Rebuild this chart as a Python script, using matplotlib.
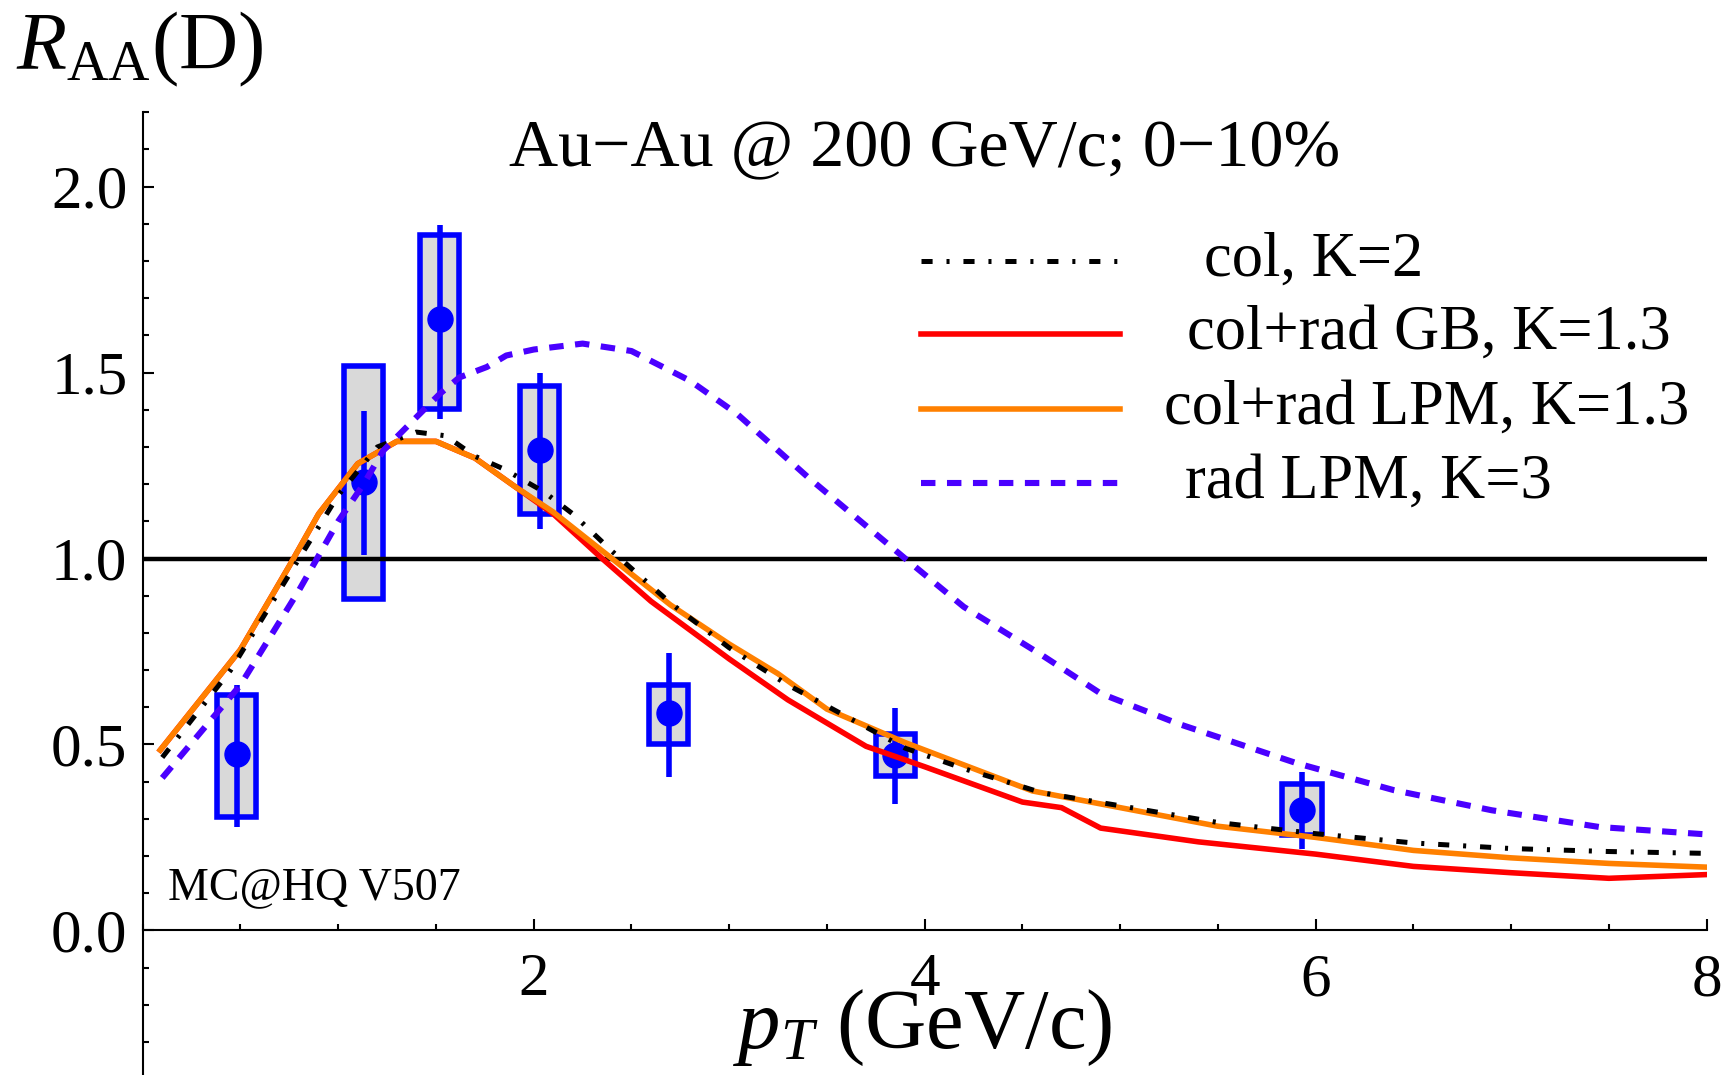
import matplotlib
matplotlib.use("Agg")
import matplotlib.pyplot as plt
from matplotlib.patches import Rectangle
from matplotlib.ticker import MultipleLocator, FixedLocator

plt.rcParams['font.family'] = ['Liberation Serif', 'DejaVu Serif']
plt.rcParams['mathtext.fontset'] = 'custom'
plt.rcParams['mathtext.rm'] = 'Liberation Serif'
plt.rcParams['mathtext.it'] = 'Liberation Serif:italic'
plt.rcParams['lines.scale_dashes'] = False

# ---------------- data ----------------
# measured D-meson R_AA (points, stat errors, systematic boxes)
pt_data = [0.48, 1.13, 1.52, 2.03, 2.69, 3.85, 5.93]
raa_data = [0.473, 1.205, 1.644, 1.292, 0.585, 0.471, 0.325]
stat_lo = [0.278, 1.010, 1.376, 1.080, 0.413, 0.339, 0.220]
stat_hi = [0.659, 1.398, 1.898, 1.499, 0.746, 0.598, 0.426]
sys_lo = [0.305, 0.890, 1.402, 1.120, 0.502, 0.415, 0.257]
sys_hi = [0.633, 1.517, 1.870, 1.463, 0.659, 0.529, 0.393]

# model curves
col_x = [0.1, 0.45, 0.8, 1.0, 1.2, 1.4, 1.55, 1.7, 1.85, 2.05, 2.2, 2.4, 2.7, 3.0, 3.3,
         3.6, 3.9, 4.2, 4.6, 5.0, 5.5, 6.0, 6.5, 7.0, 7.5, 8.0]
col_y = [0.465, 0.70, 1.0, 1.17, 1.30, 1.34, 1.33, 1.275, 1.24, 1.18, 1.12, 1.02, 0.88,
         0.76, 0.66, 0.575, 0.49, 0.435, 0.37, 0.335, 0.29, 0.26, 0.235, 0.22, 0.212, 0.207]

gb_x = [0.09, 0.5, 0.75, 0.9, 1.1, 1.3, 1.5, 1.7, 1.9, 2.1, 2.35, 2.6, 3.0, 3.3, 3.7,
        4.0, 4.5, 4.7, 4.9, 5.4, 6.0, 6.5, 7.0, 7.5, 8.0]
gb_y = [0.485, 0.755, 0.98, 1.12, 1.255, 1.315, 1.315, 1.27, 1.195, 1.12, 1.0, 0.885,
        0.73, 0.62, 0.495, 0.44, 0.345, 0.33, 0.275, 0.238, 0.205, 0.172, 0.155, 0.14, 0.15]

lpm_x = [0.09, 0.5, 0.75, 0.9, 1.1, 1.3, 1.5, 1.7, 1.9, 2.1, 2.4, 2.7, 3.0, 3.25, 3.5,
         3.9, 4.25, 4.55, 5.0, 5.5, 6.0, 6.5, 7.0, 7.5, 8.0]
lpm_y = [0.485, 0.755, 0.98, 1.12, 1.255, 1.315, 1.315, 1.27, 1.195, 1.125, 1.0, 0.875,
         0.77, 0.69, 0.595, 0.505, 0.435, 0.375, 0.33, 0.28, 0.25, 0.215, 0.195, 0.18, 0.17]

rad_x = [0.1, 0.5, 0.8, 1.0, 1.13, 1.23, 1.4, 1.52, 1.62, 1.76, 1.86, 2.0, 2.25, 2.5,
         2.8, 3.04, 3.4, 3.9, 4.2, 4.6, 4.9, 5.3, 5.9, 6.4, 6.9, 7.45, 8.0]
rad_y = [0.41, 0.66, 0.915, 1.10, 1.20, 1.29, 1.38, 1.443, 1.487, 1.515, 1.546, 1.562,
         1.578, 1.558, 1.478, 1.389, 1.22, 1.0, 0.87, 0.74, 0.637, 0.555, 0.45, 0.377,
         0.323, 0.278, 0.258]

legend_labels = ["col, K=2", "col+rad GB, K=1.3", "col+rad LPM, K=1.3", "rad LPM, K=3"]
x_ticks = [2, 4, 6, 8]
y_ticks = [0.0, 0.5, 1.0, 1.5, 2.0]

# ---------------- figure ----------------
fig = plt.figure(figsize=(17.24, 10.75), dpi=100)
ax = fig.add_axes([0.08277, 0.0, 0.90719, 0.89553])
ax.set_xlim(0, 8)
ax.set_ylim(-0.389, 2.2)

BLUE = '#0000ff'
box_hw = 0.1
for x, y, lo, hi, slo, shi in zip(pt_data, raa_data, stat_lo, stat_hi, sys_lo, sys_hi):
    ax.add_patch(Rectangle((x - box_hw, slo), 2 * box_hw, shi - slo,
                           facecolor='#d9d9d9', edgecolor=BLUE, lw=4.0, zorder=2))
    ax.plot([x, x], [lo, hi], color=BLUE, lw=4.0, solid_capstyle='butt', zorder=3)
ax.plot(pt_data, raa_data, 'o', color=BLUE, ms=18, mec=BLUE, zorder=4)

ax.axhline(1.0, color='black', lw=3.2, zorder=5)

col_style = dict(color='black', lw=3.6, linestyle=(0, (8, 10, 2.2, 10)))
gb_style = dict(color='#ff0000', lw=4.0)
lpm_style = dict(color='#ff8000', lw=4.0)
rad_style = dict(color='#4a00ff', lw=4.4, linestyle=(0, (10.4, 8.3)))

ax.plot(gb_x, gb_y, zorder=6, **gb_style)
ax.plot(lpm_x, lpm_y, zorder=7, **lpm_style)
ax.plot(col_x, col_y, zorder=8, **col_style)
ax.plot(rad_x, rad_y, zorder=9, **rad_style)

# legend drawn manually (Mathematica style)
rows_y = [1.80, 1.605, 1.403, 1.203]
text_cx = [5.99, 6.58, 6.57, 6.27]
for st, lab, ry, cx in zip([col_style, gb_style, lpm_style, rad_style], legend_labels, rows_y, text_cx):
    ax.plot([3.98, 5.0], [ry, ry], zorder=10, **st)
    ax.text(cx, ry, lab, ha='center', va='center', fontsize=45, zorder=10)

ax.text(4.0, 2.10, "Au\u2212Au @ 200 GeV/c; 0\u221210%", ha='center', va='center', fontsize=49)
ax.text(0.878, 0.113, "MC@HQ V507", ha='center', va='center', fontsize=33)
ax.text(3.99, -0.2625, r"$p_T$ (GeV/c)", ha='center', va='center', fontsize=61)
fig.text(16.5 / 1724, 1 - 49.5 / 1075, r"$R_{\mathrm{AA}}$(D)", ha='left', va='center', fontsize=59)

# axes styling
for s in ['top', 'right']:
    ax.spines[s].set_visible(False)
ax.spines['bottom'].set_position(('data', 0))
ax.spines['left'].set_linewidth(1.5)
ax.spines['bottom'].set_linewidth(1.5)

ax.xaxis.set_major_locator(FixedLocator(x_ticks))
ax.xaxis.set_minor_locator(MultipleLocator(0.5))
ax.yaxis.set_major_locator(FixedLocator(y_ticks))
ax.yaxis.set_minor_locator(MultipleLocator(0.1))
ax.set_xticklabels([str(t) for t in x_ticks])
ax.set_yticklabels([f"{t:.1f}" for t in y_ticks])
ax.tick_params(axis='both', which='major', direction='in', length=8, width=1.5, labelsize=44)
ax.tick_params(axis='both', which='minor', direction='in', length=4.5, width=1.5)
ax.tick_params(axis='x', which='major', pad=16)
ax.tick_params(axis='y', which='major', pad=11)

fig.savefig('out.png', dpi=100)
